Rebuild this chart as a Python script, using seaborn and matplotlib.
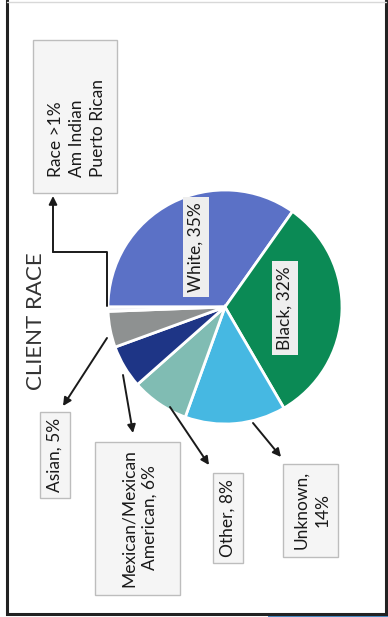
import matplotlib
matplotlib.use("Agg")
import matplotlib.pyplot as plt
from matplotlib.patches import Rectangle
import seaborn as sns

# Client race breakdown (percent of clients)
categories = ["White", "Black", "Unknown", "Other", "Mexican/Mexican American", "Asian", "Race >1%"]
shares = [35, 32, 14, 8, 6, 5, 0.6]
colors = ["#5B71C6", "#0B8A55", "#46B8E2", "#80BCB3", "#1E3586", "#8E9191", "#EEF0F5"]

title = "CLIENT RACE"
small_groups = ["Am Indian", "Puerto Rican"]

sns.set_style("white")
plt.rcParams["font.family"] = ["Lato", "DejaVu Sans"]

fig = plt.figure(figsize=(3.88, 6.17), dpi=100)
ax = fig.add_axes([0, 0, 1, 1])

# pie drawn on an image-style (y down) canvas, reading rotated a quarter turn
ax.pie(shares, colors=colors, startangle=180, counterclock=True,
       center=(225, 307), radius=117,
       wedgeprops=dict(edgecolor="white", linewidth=2))
ax.set_xlim(0, 388)
ax.set_ylim(617, 0)
ax.set_aspect("equal")
ax.axis("off")

# page frame
ax.plot([7, 7, 386, 386], [0, 614, 614, 0], color="#222222", lw=2.2,
        solid_joinstyle="miter", clip_on=False)
ax.plot([7, 386], [2, 2], color="#d8d8d8", lw=1)
ax.add_patch(Rectangle((268, 615.5), 120, 2, color="#4a8fc8", lw=0))

# title
ax.text(36, 321, title, rotation=90, ha="center", va="center",
        fontsize=16, color="#333333")

FS = 12.5


def label(text, cx, cy, w, h, tx=None, ty=None, align="center"):
    ax.add_patch(Rectangle((cx - w / 2, cy - h / 2), w, h, facecolor="#f5f5f5",
                           edgecolor="#bdbdbd", lw=1))
    ax.text(cx if tx is None else tx, cy if ty is None else ty, text,
            rotation=90, ha="center", va="center", multialignment=align,
            fontsize=FS, color="#1a1a1a", linespacing=1.35)


arrow = dict(arrowstyle="-|>", color="#1a1a1a", lw=1.4, mutation_scale=12,
             shrinkA=0, shrinkB=0)

# small groups callout with an elbow connector
label(categories[6] + "\n" + "\n".join(small_groups), 75, 116, 84, 153,
      tx=77, ty=128, align="left")
ax.plot([107, 107, 53], [306, 252, 252], color="#1a1a1a", lw=1.4)
ax.annotate("", xy=(53, 196), xytext=(53, 252), arrowprops=arrow)

pct = dict(zip(categories, shares))

label(f"Asian, {pct['Asian']:.0f}%", 55, 455, 30, 86)
ax.annotate("", xy=(63, 406), xytext=(107, 338), arrowprops=arrow)

label(f"Mexican/Mexican\nAmerican, {pct['Mexican/Mexican American']:.0f}%",
      137, 518, 85, 153, tx=139)
ax.annotate("", xy=(133, 433), xytext=(123, 375), arrowprops=arrow)

label(f"Other, {pct['Other']:.0f}%", 228, 518, 30, 90)
ax.annotate("", xy=(209, 465), xytext=(170, 407), arrowprops=arrow)

label(f"Unknown,\n{pct['Unknown']:.0f}%", 310, 510, 55, 93, tx=312)
ax.annotate("", xy=(281, 457), xytext=(253, 423), arrowprops=arrow)

# in-slice labels
for name, (x, y) in {"White": (196, 247), "Black": (285, 308)}.items():
    ax.text(x, y, f"{name}, {pct[name]:.0f}%", rotation=90, ha="center",
            va="center", fontsize=FS, color="#1a1a1a",
            bbox=dict(boxstyle="square,pad=0.3", facecolor="#eeeeee",
                      edgecolor="none"))

fig.savefig("out.png", dpi=100)
